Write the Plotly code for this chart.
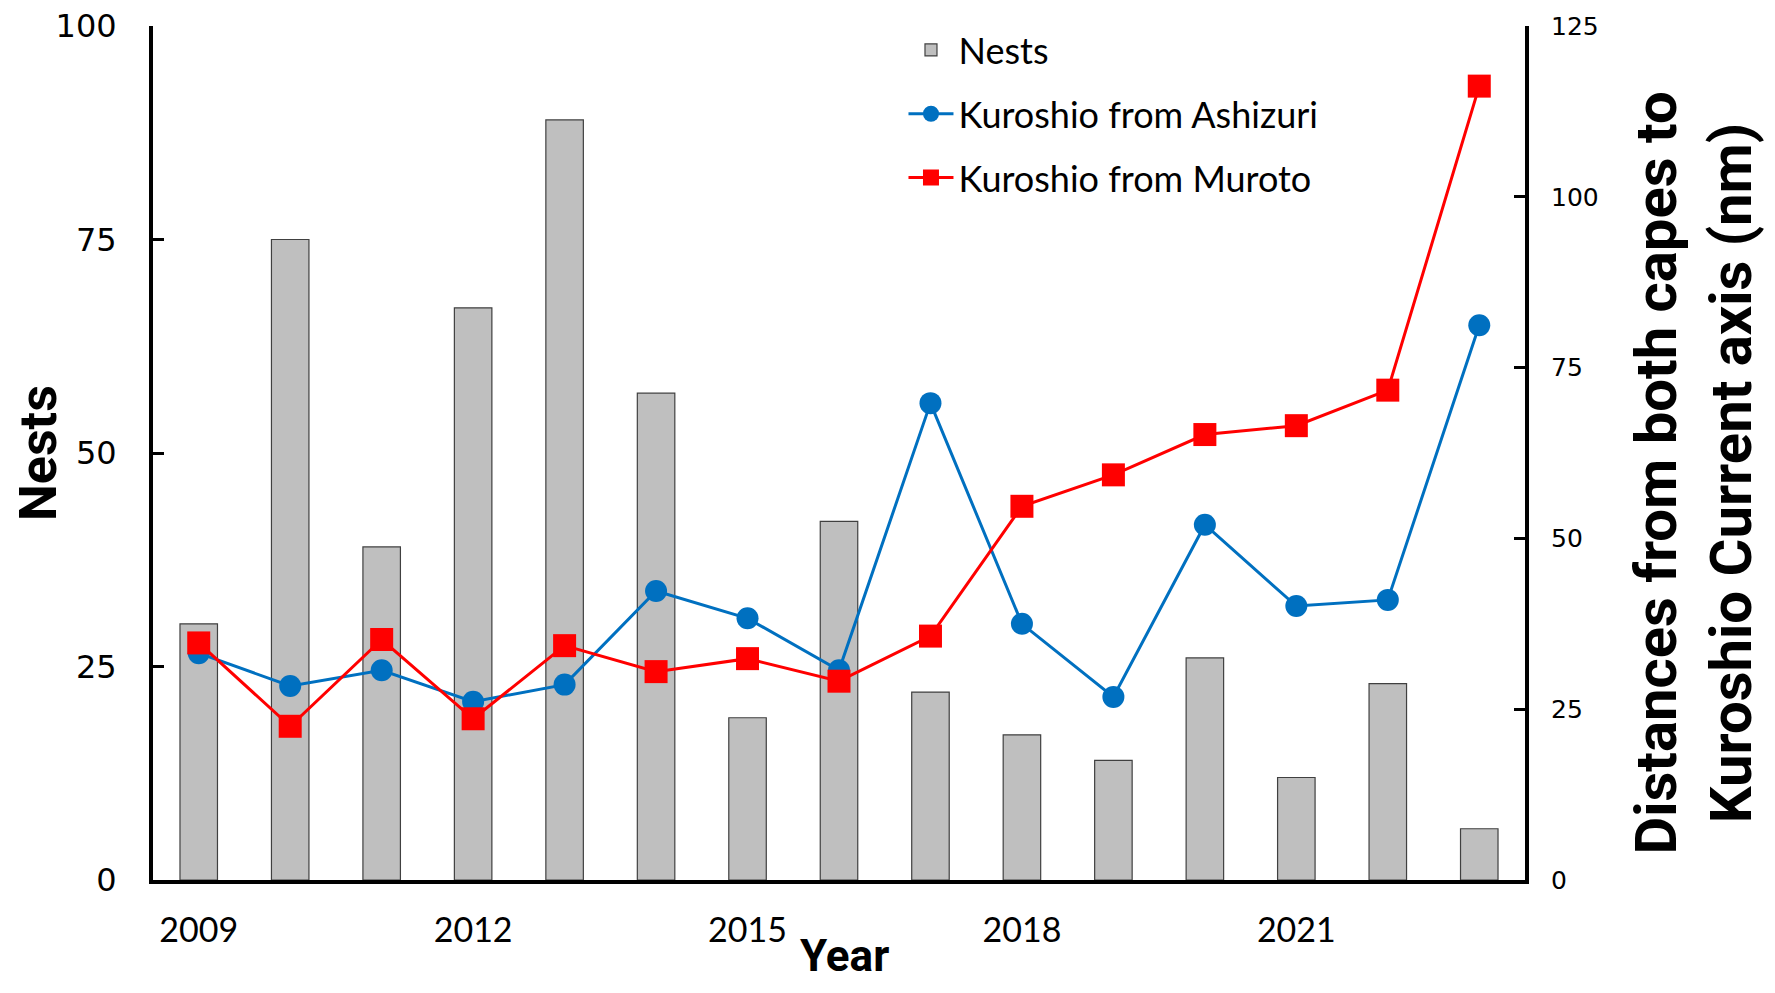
import plotly.graph_objects as go

years = [2009, 2010, 2011, 2012, 2013, 2014, 2015, 2016, 2017, 2018, 2019, 2020, 2021, 2022, 2023]
nests = [30, 75, 39, 67, 89, 57, 19, 42, 22, 17, 14, 26, 12, 23, 6]
ashizuri = [33.2, 28.4, 30.7, 26.1, 28.6, 42.3, 38.3, 30.7, 69.8, 37.5, 26.8, 52.0, 40.1, 41.0, 81.2]
muroto = [34.7, 22.5, 35.2, 23.6, 34.3, 30.5, 32.4, 29.1, 35.7, 54.7, 59.3, 65.2, 66.5, 71.7, 116.2]
x_ticks = [2009, 2012, 2015, 2018, 2021]
y_ticks = [0, 25, 50, 75, 100]
y2_ticks = [0, 25, 50, 75, 100, 125]
right_title = "<b>Distances from both capes to<br>Kuroshio Current axis (nm)</b>"
x_title = "<b>Year</b>"

NARROW = "Roboto, sans-serif"
CAL = "Lato, Open Sans, sans-serif"
VER = "DejaVu Sans, Verdana, sans-serif"

fig = go.Figure()
fig.add_trace(go.Bar(
    x=years, y=nests, name="Nests", width=0.41,
    marker=dict(color="#BFBFBF", line=dict(color="#404040", width=1.2)),
    legendgroup="a", yaxis="y"))
fig.add_trace(go.Scatter(
    x=years, y=ashizuri, name="Kuroshio from Ashizuri", mode="lines+markers",
    line=dict(color="#0070C0", width=3),
    marker=dict(symbol="circle", size=22, color="#0070C0"),
    legendgroup="b", yaxis="y2"))
fig.add_trace(go.Scatter(
    x=years, y=muroto, name="Kuroshio from Muroto", mode="lines+markers",
    line=dict(color="#FF0000", width=3),
    marker=dict(symbol="square", size=23, color="#FF0000"),
    legendgroup="c", yaxis="y2"))

fig.add_annotation(
    text=right_title, xref="paper", yref="paper", x=1.1225, y=0.476,
    xanchor="center", yanchor="middle", textangle=-90, showarrow=False,
    font=dict(family=NARROW, size=58, color="black"))
fig.add_annotation(
    text=x_title, xref="paper", yref="paper", x=0.504, y=-0.0895,
    xanchor="center", yanchor="middle", showarrow=False,
    font=dict(family=NARROW, size=44, color="black"))

fig.update_layout(
    width=1759, height=977,
    margin=dict(l=145, r=242, t=15, b=105),
    paper_bgcolor="white", plot_bgcolor="white",
    showlegend=True,
    legend=dict(x=0.547, y=1.007, xanchor="left", yanchor="top",
                font=dict(family=CAL, size=36, color="black"),
                tracegroupgap=14, bgcolor="rgba(0,0,0,0)", itemwidth=45),
    xaxis=dict(range=[2008.5, 2023.5], tickvals=x_ticks, ticks="", automargin=False,
               showline=True, linecolor="black", linewidth=4, showgrid=False, zeroline=False,
               tickfont=dict(family=CAL, size=34, color="black"), ticklabelstandoff=17),
    yaxis=dict(range=[0, 100.0001], tickvals=y_ticks, ticks="inside", ticklen=11, tickwidth=3,
               tickcolor="black", showline=True, linecolor="black", linewidth=4,
               showgrid=False, zeroline=False, automargin=False, ticklabeloverflow="allow",
               tickfont=dict(family=VER, size=32, color="black"), ticklabelstandoff=26,
               title=dict(text="<b>Nests</b>", font=dict(family=NARROW, size=52, color="black"), standoff=4)),
    yaxis2=dict(range=[0, 125], tickvals=y2_ticks, ticks="inside", ticklen=11, tickwidth=3,
                tickcolor="black", overlaying="y", side="right", showline=True,
                linecolor="black", linewidth=4, showgrid=False, zeroline=False, automargin=False,
                tickfont=dict(family=VER, size=25, color="black"), ticklabelstandoff=17),
)

fig.write_html("out.html")
